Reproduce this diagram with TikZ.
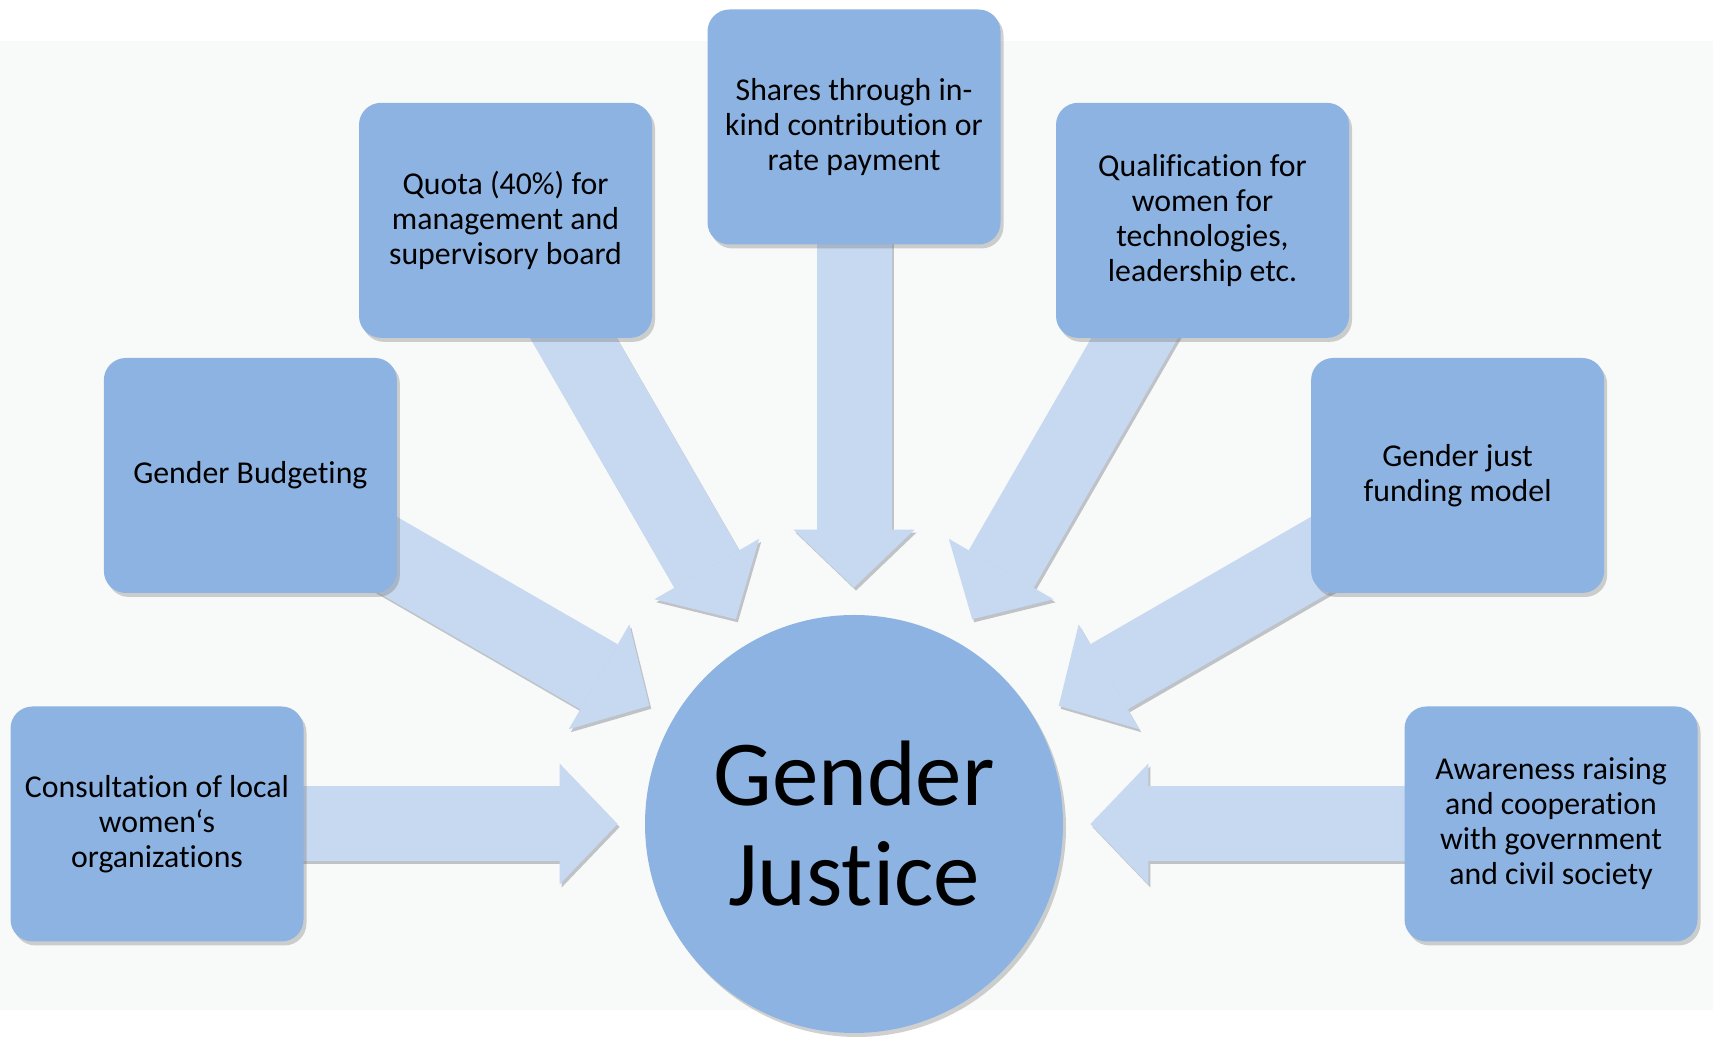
\documentclass[tikz,border=0pt]{standalone}
\usepackage{fontspec}
\setmainfont{Carlito}[Ligatures={NoCommon,NoContextual}]
\usetikzlibrary{arrows.meta,calc,shadows,backgrounds}
\definecolor{BoxBlue}{HTML}{8DB3E2}
\definecolor{FlowBlue}{HTML}{C6D9F1}
\definecolor{PaneGray}{HTML}{F8F9F9}
\definecolor{ShadeGray}{HTML}{BFC3C7}

\begin{document}
\begin{tikzpicture}[
  x=0.5pt, y=0.5pt,
  box/.style={fill=BoxBlue, rounded corners=11pt, align=center, minimum width=146.5pt, minimum height=117.5pt, inner sep=2pt, font=\fontsize{15.9}{17.5}\selectfont, drop shadow={shadow xshift=1.5pt, shadow yshift=-2pt, opacity=0.3, fill=black!60}},
  hub/.style={circle, fill=BoxBlue, minimum size=209pt, inner sep=0pt, align=center, font=\fontsize{46.5}{50}\selectfont, drop shadow={shadow xshift=1.5pt, shadow yshift=-2pt, opacity=0.3, fill=black!60}},
  flow/.style={line width=37.5pt, draw=FlowBlue, shorten >=13.5pt, -{Triangle[length=29pt, width=60.5pt, line width=0pt]}},
  flowshade/.style={flow, draw=ShadeGray, transform canvas={xshift=1pt, yshift=-1.5pt}}
]
\useasboundingbox (0,0) rectangle (1719,1037);
\node[hub] (gj) at (854,213) {Gender\\Justice};
\node[box] (cons) at ($(gj)+(180:697)$) {Consultation of local\\women‘s\\organizations};
\node[box] (budg) at ($(gj)+(150:697)$) {Gender Budgeting};
\node[box] (quota) at ($(gj)+(120:697)$) {Quota (40\%) for\\management and\\supervisory board};
\node[box] (shares) at ($(gj)+(90:697)$) {Shares through in-\\kind contribution or\\rate payment};
\node[box] (qual) at ($(gj)+(60:697)$) {Qualification for\\women for\\technologies,\\leadership etc.};
\node[box] (fund) at ($(gj)+(30:697)$) {Gender just\\funding model};
\node[box] (aware) at ($(gj)+(0:697)$) {Awareness raising\\and cooperation\\with government\\and civil society};
\begin{scope}[on background layer]
  \fill[white] (0,0) rectangle (1719,1037);
  \fill[PaneGray] (0,27) rectangle (1713,996);
  \foreach \b in {cons,budg,quota,shares,qual,fund,aware}{
    \draw[flowshade] (\b.center) -- (gj);
    \draw[flow] (\b.center) -- (gj);
  }
\end{scope}
\end{tikzpicture}
\end{document}
